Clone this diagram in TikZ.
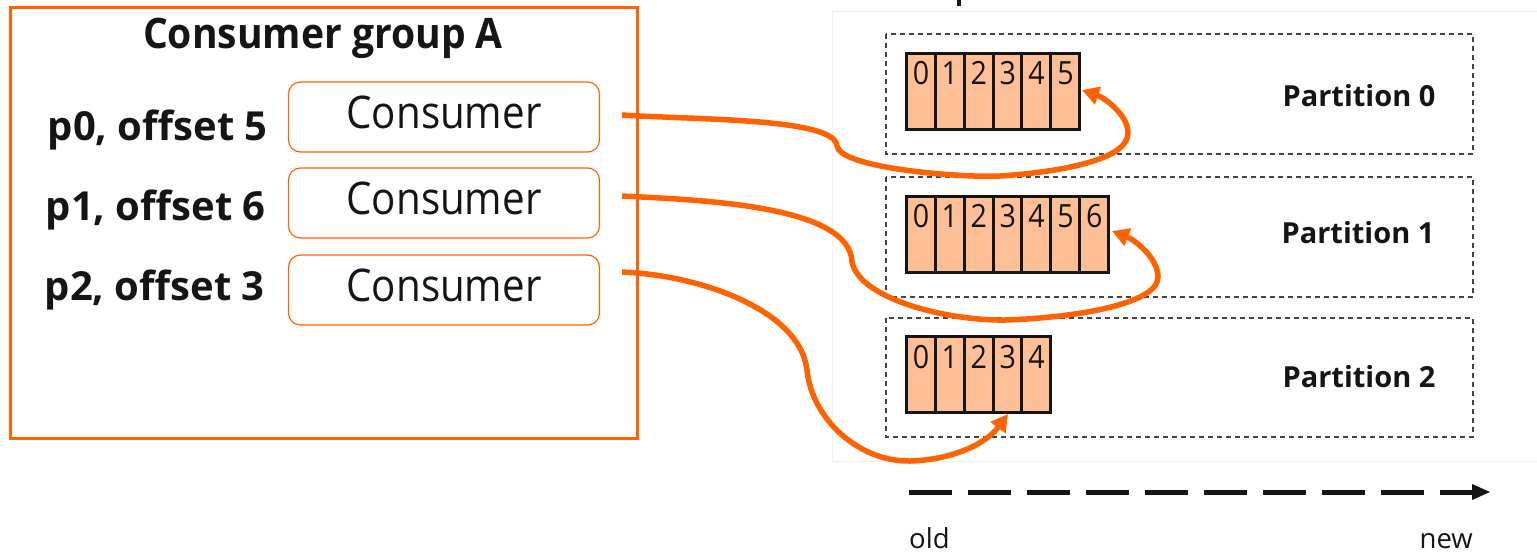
\documentclass[tikz,border=0pt]{standalone}
\usepackage{fontspec}
\setmainfont{Open Sans}
\newfontfamily\narrowf{Open Sans}[FakeStretch=0.895]
\newfontfamily\headf{Open Sans}[FakeStretch=0.93]
\definecolor{ingorange}{HTML}{FF6200}
\definecolor{cellfill}{HTML}{FFBF96}
\definecolor{ink}{HTML}{151515}
\usetikzlibrary{arrows.meta}
\tikzset{
  group/.style={draw=ingorange,line width=3pt},
  consumer/.style={draw=ingorange,line width=1.2pt,rounded corners=12pt,minimum width=311pt,minimum height=70pt,inner sep=0,outer sep=0},
  consumertext/.style={font=\narrowf\fontsize{45}{45}\selectfont,text=ink,anchor=base,inner sep=0},
  titletext/.style={font=\headf\bfseries\fontsize{42}{42}\selectfont,text=ink,anchor=base,inner sep=0},
  offsetlabel/.style={font=\bfseries\fontsize{40}{40}\selectfont,text=ink,anchor=base east,inner sep=0},
  partbox/.style={draw=ink!80,dash pattern=on 5pt off 4pt,line width=1.2pt},
  cell/.style={draw=ink,line width=3pt,fill=cellfill,minimum width=28.9pt,minimum height=76.5pt,inner sep=0,outer sep=0,anchor=north west},
  cellnum/.style={font=\narrowf\fontsize{32}{32}\selectfont,text=ink,inner sep=0,anchor=center},
  partlabel/.style={font=\bfseries\fontsize{29}{29}\selectfont,text=ink},
  smalllabel/.style={font=\fontsize{27.5}{28}\selectfont,text=ink,inner sep=0},
  link/.style={draw=ingorange,line width=5.5pt,-{Triangle[length=17pt,width=18pt]}},
}
\begin{document}
\begin{tikzpicture}[x=1pt,y=-1pt]
\useasboundingbox (0,0) rectangle (1537,552);
\fill[white] (0,0) rectangle (1537,552);
% outer topic frame
\draw[black!6,line width=1pt] (832,11) rectangle (1537,461);
\draw[ink,line width=4pt] (959,0) -- (959,6);
% group
\draw[group] (10,7) rectangle (637,438);
\node[titletext] (title) at (323,48) {Consumer group A};
\node[consumer] (c0) at (444,117) {};
\node[consumer] (c1) at (444,203) {};
\node[consumer] (c2) at (444,290) {};
\node[consumertext] (ct0) at (444,128) {Consumer};
\node[consumertext] (ct1) at (444,214) {Consumer};
\node[consumertext] (ct2) at (444,301) {Consumer};
\node[offsetlabel] (l0) at (268,140) {p0, offset 5};
\node[offsetlabel] (l1) at (266,220) {p1, offset 6};
\node[offsetlabel] (l2) at (265,300) {p2, offset 3};
\coordinate (s0) at (622,115);
\coordinate (s1) at (622,196);
\coordinate (s2) at (622,272);
% partitions
\draw[partbox] (886,34) rectangle (1473,154);
\draw[partbox] (886,177) rectangle (1473,297);
\draw[partbox] (886,318) rectangle (1473,437);
\node[partlabel] (n0) at (1359,96) {Partition 0};
\node[partlabel] (n1) at (1358,233) {Partition 1};
\node[partlabel] (n2) at (1359,377) {Partition 2};
% cells
\foreach \i in {0,...,5}{
  \node[cell] (a\i) at ({906.3+\i*28.9},53) {};
  \node[cellnum] (an\i) at ({921+\i*28.9},73) {\i};
}
\foreach \i in {0,...,6}{
  \node[cell] (b\i) at ({906.3+\i*28.9},196) {};
  \node[cellnum] (bn\i) at ({921+\i*28.9},216) {\i};
}
\foreach \i in {0,...,4}{
  \node[cell] (d\i) at ({906.3+\i*28.9},336) {};
  \node[cellnum] (dn\i) at ({921+\i*28.9},357) {\i};
}
% links
\coordinate (t0) at (1082,90);
\coordinate (t1) at (1112,231);
\coordinate (t2) at (1008,414);
\draw[link] (s0) .. controls (700,120) and (835,118) .. (837,146)
  .. controls (840,168) and (960,178) .. (1000,176)
  .. controls (1060,172) and (1128,160) .. (1128,133)
  .. controls (1128,115) and (1105,98) .. (t0);
\draw[link] (s1) .. controls (700,200) and (850,205) .. (852,262)
  .. controls (860,300) and (950,321) .. (1005,320)
  .. controls (1070,318) and (1158,305) .. (1158,277)
  .. controls (1158,258) and (1135,240) .. (t1);
\draw[link] (s2) .. controls (700,275) and (800,310) .. (807,370)
  .. controls (812,420) and (860,462) .. (910,461)
  .. controls (950,460) and (985,445) .. (t2);
% time arrow
\coordinate (ta) at (909,492);
\coordinate (tb) at (1490,492);
\coordinate (tc) at (1474,492);
\draw[ink,line width=5pt,dash pattern=on 43pt off 16pt] (ta) -- (tc);
\fill[ink] (1472,484) -- (tb) -- (1472,500) -- cycle;
\node[smalllabel,anchor=base west] (old) at (909,548) {old};
\node[smalllabel,anchor=base east] (new) at (1473,548) {new};
\end{tikzpicture}
\end{document}
